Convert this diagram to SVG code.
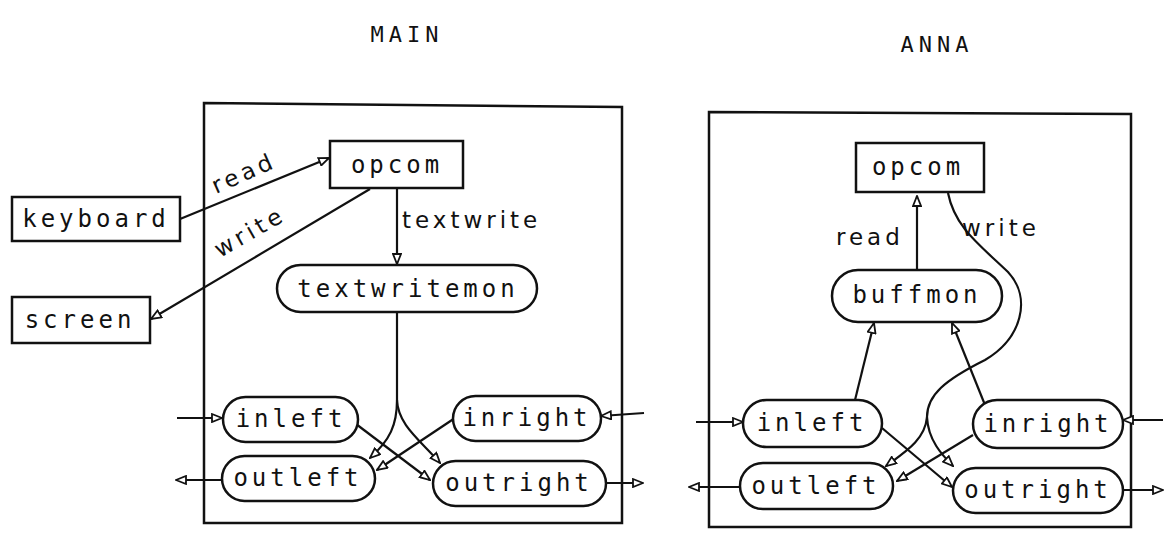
<svg xmlns="http://www.w3.org/2000/svg" width="1176" height="539" viewBox="0 0 1176 539">
<defs>
<marker id="arr" viewBox="0 0 12 10" refX="11" refY="5" markerWidth="12" markerHeight="10" markerUnits="userSpaceOnUse" orient="auto">
<path d="M1,1 L11,5 L1,9 Z" fill="#fff" stroke="#111" stroke-width="1.8"/>
</marker>
</defs>
<style>
.frame{fill:none;stroke:#111;stroke-width:2.5}
.box{fill:#fff;stroke:#111;stroke-width:2.5}
.lbl{font-family:"DejaVu Sans Mono","Liberation Mono",monospace;font-size:24px;letter-spacing:4px;fill:#111;text-anchor:middle;dominant-baseline:central}
.title{font-family:"DejaVu Sans Mono","Liberation Mono",monospace;font-size:22px;letter-spacing:5px;fill:#111;text-anchor:middle}
.hand{font-family:"DejaVu Sans",sans-serif;font-size:23px;letter-spacing:4px;fill:#111}
.e{fill:none;stroke:#111;stroke-width:2.2;marker-end:url(#arr)}
.p{fill:none;stroke:#111;stroke-width:2.2}
</style>
<rect width="1176" height="539" fill="#fff"/>

<text class="title" x="407" y="42">MAIN</text>
<text class="title" x="937" y="52">ANNA</text>

<g id="main-frame"><path class="frame" d="M204,103 L622,107 L622,523 L204,523 Z"/></g>
<g id="anna-frame"><path class="frame" d="M709,112 L1131,114 L1131,527 L709,527 Z"/></g>

<g id="connectors">
<!-- MAIN -->
<path class="e" d="M180,219 L329,158"/>
<path class="e" d="M370,189 L151,319"/>
<path class="e" d="M397,189 L397,264"/>
<path class="p" d="M397,312 L397,400"/>
<path class="e" d="M397,400 C397,425 390,440 370,458"/>
<path class="e" d="M397,400 C398,425 420,440 440,463"/>
<path class="e" d="M356,424 L430,480"/>
<path class="e" d="M455,418 L377,470"/>
<path class="e" d="M177,418 L222,418"/>
<path class="e" d="M644,413 L601,416"/>
<path class="e" d="M222,480 L176,480"/>
<path class="e" d="M606,483 L643,483"/>
<!-- ANNA -->
<path class="e" d="M917,269 L917,196"/>
<path class="p" d="M948,193 C955,228 980,245 1008,272 C1032,298 1022,338 985,360 C945,380 927,395 927,417"/>
<path class="e" d="M927,417 C925,440 905,452 886,466"/>
<path class="e" d="M927,417 C928,440 942,455 953,466"/>
<path class="e" d="M973,435 L897,481"/>
<path class="e" d="M882,428 L952,487"/>
<path class="e" d="M855,400 L874,323"/>
<path class="e" d="M985,405 L952,323"/>
<path class="e" d="M696,422 L743,422"/>
<path class="e" d="M1163,420 L1123,420"/>
<path class="e" d="M740,487 L689,487"/>
<path class="e" d="M1123,490 L1163,490"/>
</g>

<g id="edge-labels">
<text class="hand" transform="translate(216,194) rotate(-24)">read</text>
<text class="hand" transform="translate(220,258) rotate(-30)">write</text>
<text class="hand" x="402" y="228">textwrite</text>
<text class="hand" x="836" y="245">read</text>
<text class="hand" x="962" y="236">write</text>
</g>

<g id="main-keyboard"><rect class="box" x="12" y="197" width="168" height="44"/><text class="lbl" x="96" y="219">keyboard</text></g>
<g id="main-screen"><rect class="box" x="12" y="297" width="138" height="46"/><text class="lbl" x="80" y="320">screen</text></g>
<g id="main-opcom"><rect class="box" x="330" y="141" width="133" height="47"/><text class="lbl" x="397" y="165">opcom</text></g>
<g id="main-textwritemon"><rect class="box" x="277" y="265" width="260" height="47" rx="23.5"/><text class="lbl" x="408" y="289">textwritemon</text></g>
<g id="main-inleft"><rect class="box" x="223" y="397" width="135" height="45" rx="22.5"/><text class="lbl" x="291" y="419">inleft</text></g>
<g id="main-inright"><rect class="box" x="453" y="396" width="148" height="45" rx="22.5"/><text class="lbl" x="527" y="418">inright</text></g>
<g id="main-outleft"><rect class="box" x="222" y="456" width="153" height="45" rx="22.5"/><text class="lbl" x="298" y="478">outleft</text></g>
<g id="main-outright"><rect class="box" x="433" y="461" width="173" height="45" rx="22.5"/><text class="lbl" x="519" y="483">outright</text></g>

<g id="anna-opcom"><rect class="box" x="856" y="143" width="128" height="49"/><text class="lbl" x="918" y="167">opcom</text></g>
<g id="anna-buffmon"><rect class="box" x="832" y="270" width="170" height="52" rx="26"/><text class="lbl" x="917" y="295">buffmon</text></g>
<g id="anna-inleft"><rect class="box" x="743" y="400" width="139" height="47" rx="23.5"/><text class="lbl" x="812" y="423">inleft</text></g>
<g id="anna-inright"><rect class="box" x="973" y="400" width="150" height="48" rx="24"/><text class="lbl" x="1048" y="424">inright</text></g>
<g id="anna-outleft"><rect class="box" x="740" y="463" width="153" height="46" rx="23"/><text class="lbl" x="816" y="486">outleft</text></g>
<g id="anna-outright"><rect class="box" x="953" y="468" width="170" height="45" rx="22.5"/><text class="lbl" x="1038" y="490">outright</text></g>
</svg>
